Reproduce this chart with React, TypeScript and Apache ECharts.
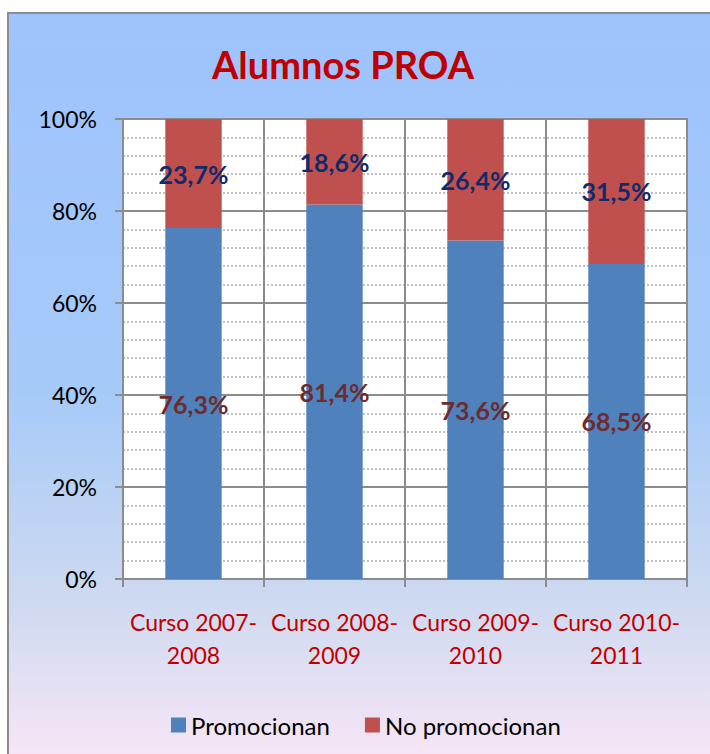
import React, { useEffect, useRef } from "react";
import * as echarts from "echarts";

const categories = ["Curso 2007-\n2008", "Curso 2008-\n2009", "Curso 2009-\n2010", "Curso 2010-\n2011"];
const promocionan = [76.3, 81.4, 73.6, 68.5];
const noPromocionan = [23.7, 18.6, 26.4, 31.5];
const seriesNames = ["Promocionan", "No promocionan"];
const yTicks = [0, 20, 40, 60, 80, 100];

const FONT = "Lato, 'Open Sans', sans-serif";

const fmt = (v: number) => v.toFixed(1).replace(".", ",") + "%";

export default function App() {
  const ref = useRef<HTMLDivElement>(null);
  useEffect(() => {
    if (!ref.current) return;
    const chart = echarts.init(ref.current, null, { renderer: "svg" });
    chart.setOption({
      animation: false,
      backgroundColor: "#ffffff",
      graphic: [
        {
          type: "rect",
          z: -10,
          shape: { x: 8, y: 13, width: 720, height: 760 },
          style: {
            fill: new echarts.graphic.LinearGradient(0, 0, 0, 1, [
              { offset: 0, color: "#9EC3FE" },
              { offset: 0.5, color: "#A6CAF8" },
              { offset: 0.78, color: "#CFDAF0" },
              { offset: 1, color: "#FBE7F6" },
            ]),
            stroke: "#8C8C8C",
            lineWidth: 2,
          },
        },
      ],
      title: {
        text: "Alumnos PROA",
        left: 338,
        top: 40,
        textAlign: "center",
        textStyle: { color: "#C00000", fontFamily: FONT, fontWeight: "bold", fontSize: 38 },
      },
      legend: {
        data: seriesNames,
        left: 166,
        top: 708,
        icon: "rect",
        itemWidth: 15,
        itemHeight: 15,
        itemGap: 35,
        textStyle: { color: "#000", fontFamily: FONT, fontSize: 24 },
      },
      grid: {
        left: 123,
        top: 119,
        right: 23,
        bottom: 175,
        show: true,
        backgroundColor: "#ffffff",
        borderColor: "#8C8C8C",
        borderWidth: 2,
      },
      xAxis: {
        type: "category",
        data: categories,
        axisLine: { lineStyle: { color: "#8C8C8C", width: 2 } },
        axisTick: { show: true, interval: 0, length: 8, lineStyle: { color: "#8C8C8C", width: 2 } },
        splitLine: { show: true, interval: 0, lineStyle: { color: "#8C8C8C", width: 2 } },
        axisLabel: {
          interval: 0,
          color: "#C00000",
          fontFamily: FONT,
          fontSize: 23,
          lineHeight: 33,
          margin: 26,
        },
      },
      yAxis: {
        type: "value",
        min: yTicks[0],
        max: yTicks[yTicks.length - 1],
        interval: 20,
        axisLine: { show: true, lineStyle: { color: "#8C8C8C", width: 2 } },
        axisTick: { show: true, length: 8, lineStyle: { color: "#8C8C8C", width: 2 } },
        axisLabel: {
          formatter: "{value}%",
          color: "#000",
          fontFamily: FONT,
          fontSize: 23,
          margin: 26,
        },
        splitLine: { show: true, lineStyle: { color: "#8C8C8C", width: 2 } },
        minorTick: { show: false, splitNumber: 5 },
        minorSplitLine: { show: true, lineStyle: { color: "#AAAAAA", width: 1.5, type: [2, 2] } },
      },
      series: [
        {
          name: seriesNames[0],
          type: "bar",
          stack: "total",
          barWidth: "40%",
          data: promocionan,
          itemStyle: { color: "#4F81BD" },
          label: {
            show: true,
            position: "inside",
            formatter: (p: any) => fmt(p.value),
            color: "#6E2B2B",
            fontFamily: FONT,
            fontWeight: "bold",
            fontSize: 25,
          },
        },
        {
          name: seriesNames[1],
          type: "bar",
          stack: "total",
          barWidth: "40%",
          data: noPromocionan,
          itemStyle: { color: "#C0504D" },
          label: {
            show: true,
            position: "inside",
            formatter: (p: any) => fmt(p.value),
            color: "#0F2B6B",
            fontFamily: FONT,
            fontWeight: "bold",
            fontSize: 25,
          },
        },
      ],
    });
    return () => chart.dispose();
  }, []);
  return <div ref={ref} style={{ position: "fixed", left: 0, top: 0, width: 710, height: 754 }} />;
}
